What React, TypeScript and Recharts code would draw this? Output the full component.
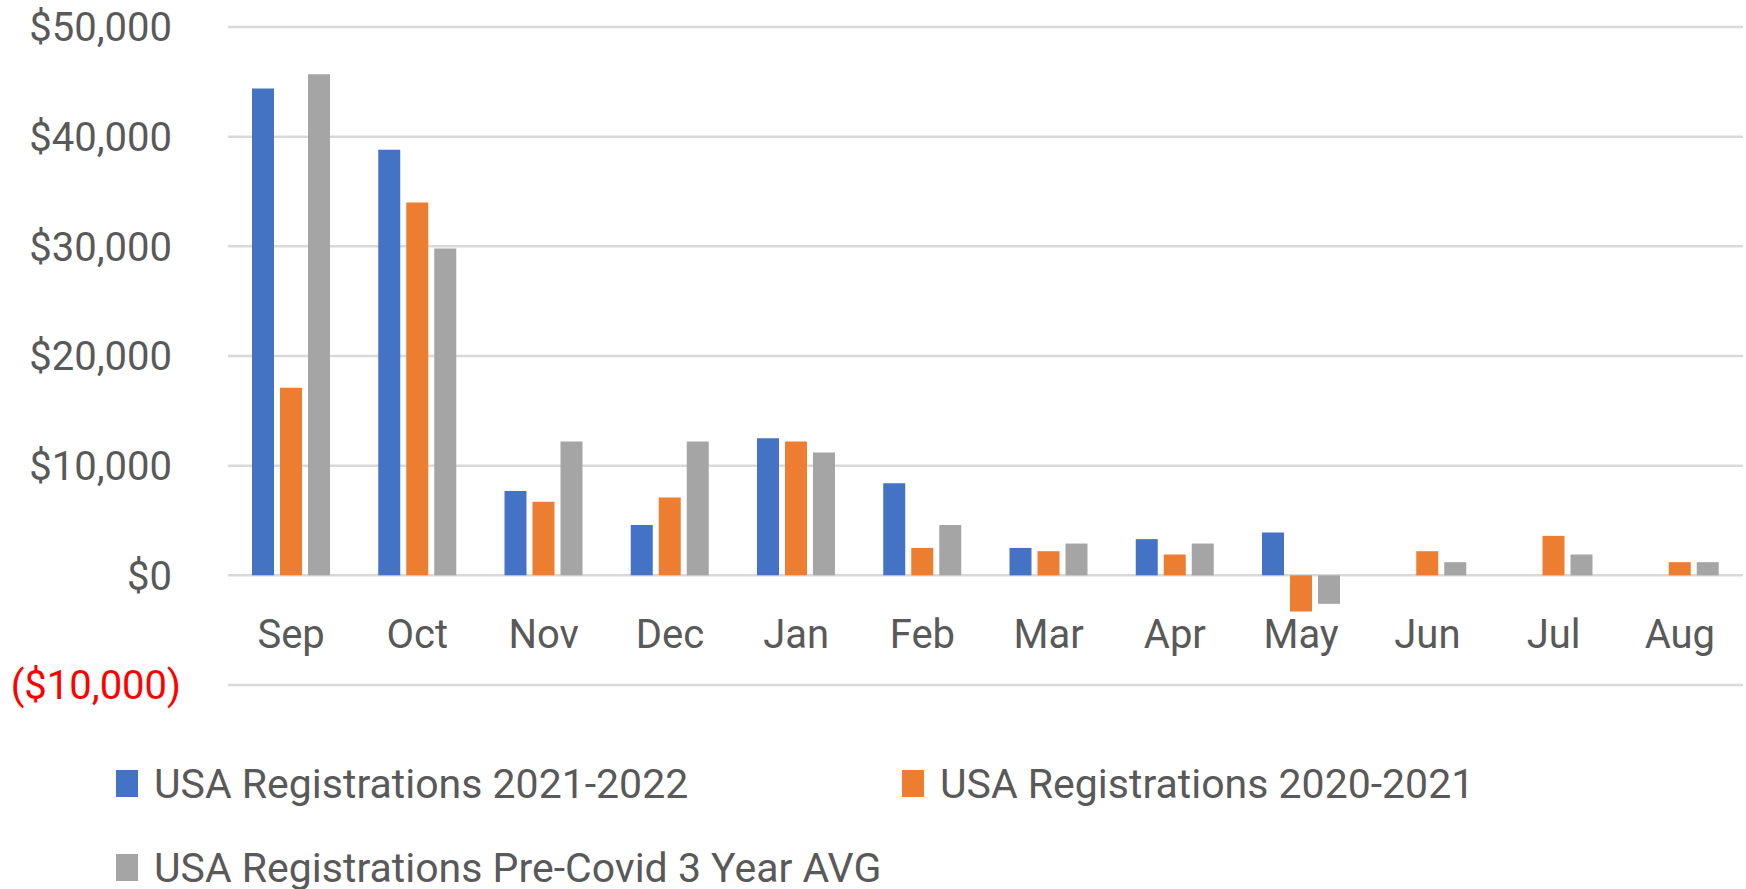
import { BarChart, Bar, XAxis, YAxis, CartesianGrid, Legend } from "recharts";

const months = ["Sep", "Oct", "Nov", "Dec", "Jan", "Feb", "Mar", "Apr", "May", "Jun", "Jul", "Aug"];
const reg2122 = [44400, 38800, 7700, 4600, 12500, 8400, 2500, 3300, 3900, null, null, null];
const reg2021 = [17100, 34000, 6700, 7100, 12200, 2500, 2200, 1900, -3300, 2200, 3600, 1200];
const preCovid = [45700, 29800, 12200, 12200, 11200, 4600, 2900, 2900, -2600, 1200, 1900, 1200];
const yTicks = [-10000, 0, 10000, 20000, 30000, 40000, 50000];
const seriesNames = [
  "USA Registrations 2021-2022",
  "USA Registrations 2020-2021",
  "USA Registrations Pre-Covid 3 Year AVG",
];

const FONT = "Roboto, 'Liberation Sans', sans-serif";
const TEXT = "#595959";

const chartData = months.map((m, i) => ({
  month: m,
  a: reg2122[i],
  b: reg2021[i],
  c: preCovid[i],
}));

function money(v: number) {
  const s = "$" + Math.abs(v).toLocaleString("en-US");
  return v < 0 ? `(${s})` : s;
}

function YTick({ x, y, payload }: any) {
  const neg = payload.value < 0;
  return (
    <text
      x={neg ? x + 9 : x}
      y={y}
      dy="0.355em"
      textAnchor="end"
      fill={neg ? "#FF0000" : TEXT}
      fontSize={40}
      fontFamily={FONT}
    >
      {money(payload.value)}
    </text>
  );
}

function XTick({ x, y, payload }: any) {
  return (
    <text x={x} y={y - 37} textAnchor="middle" fill={TEXT} fontSize={40} fontFamily={FONT}>
      {payload.value}
    </text>
  );
}

function LegendBox({ payload }: any) {
  // keep the series order, not recharts' alphabetical one
  const items = [...(payload || [])].sort(
    (p: any, q: any) => seriesNames.indexOf(p.value) - seriesNames.indexOf(q.value)
  );
  return (
    <div style={{ display: "flex", flexWrap: "wrap", width: 1600 }}>
      {items.map((p: any) => (
        <div key={p.value} style={{ position: "relative", width: 786, height: 84 }}>
          <span
            style={{ position: "absolute", left: 0, top: 0, width: 22, height: 27, background: p.color }}
          />
          <span
            style={{
              position: "absolute",
              left: 38,
              top: -10,
              fontSize: 41,
              lineHeight: "48px",
              fontFamily: FONT,
              color: TEXT,
              whiteSpace: "nowrap",
            }}
          >
            {p.value}
          </span>
        </div>
      ))}
    </div>
  );
}

export default function App() {
  return (
    <div style={{ position: "absolute", left: 0, top: 0, background: "#fff" }}>
      <BarChart
        width={1746}
        height={889}
        data={chartData}
        margin={{ top: 27, right: 3, bottom: 203, left: 0 }}
        barSize={22}
        barGap={6}
      >
        <CartesianGrid vertical={false} stroke="#D9D9D9" strokeWidth={2.5} />
        <XAxis
          dataKey="month"
          height={1}
          axisLine={false}
          tickLine={false}
          tickSize={0}
          tickMargin={0}
          tick={<XTick />}
          interval={0}
        />
        <YAxis
          width={228}
          domain={[-10000, 50000]}
          ticks={yTicks}
          axisLine={false}
          tickLine={false}
          tickSize={0}
          tickMargin={56}
          tick={<YTick />}
        />
        <Legend
          layout="horizontal"
          verticalAlign="middle"
          align="center"
          wrapperStyle={{ top: 770, left: 116, width: 1600 }}
          content={<LegendBox />}
        />
        <Bar dataKey="a" name={seriesNames[0]} fill="#4472C4" isAnimationActive={false} />
        <Bar dataKey="b" name={seriesNames[1]} fill="#ED7D31" isAnimationActive={false} />
        <Bar dataKey="c" name={seriesNames[2]} fill="#A5A5A5" isAnimationActive={false} />
      </BarChart>
    </div>
  );
}
